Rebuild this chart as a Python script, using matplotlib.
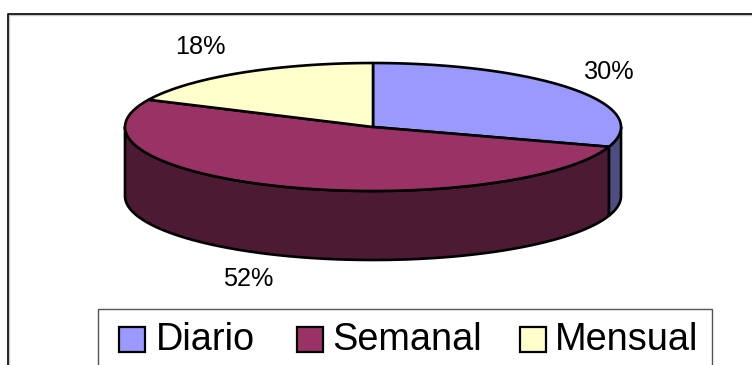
import numpy as np
import matplotlib
matplotlib.use("Agg")
import matplotlib.pyplot as plt
from matplotlib.patches import Polygon, Rectangle

plt.rcParams["font.family"] = ["Liberation Sans", "DejaVu Sans"]

# Data
categories = ["Diario", "Semanal", "Mensual"]
shares = [30, 52, 18]

# Styling
top_colors = ["#9999FF", "#993366", "#FFFFCC"]
side_colors = ["#4D4D80", "#4D1A33", "#808066"]
label_anchors = [(609.5, 79), (248, 286), (200, 54)]
legend_swatch_x = [119, 297, 520]
legend_text_x = [155.5, 332.5, 555]

W, H = 752, 365
CX, CY, RX, RY, DEPTH = 373, 127, 248, 64, 69


def rim(start, stop, drop=0.0):
    """Points along the ellipse, angles clockwise from twelve o'clock."""
    t = np.radians(np.linspace(start, stop, max(int(abs(stop - start) * 2), 2)))
    return np.column_stack([CX + RX * np.sin(t), CY - RY * np.cos(t) + drop])


fig = plt.figure(figsize=(W / 100, H / 100), dpi=100, facecolor="white")
ax = fig.add_axes([0, 0, 1, 1])
ax.set_xlim(0, W)
ax.set_ylim(H, 0)
ax.axis("off")

# Chart frame runs off the right and bottom of the canvas
ax.plot([W + 5, 9.3, 9.3], [15, 15, H + 5], color="#C8C8C8", lw=1.0, zorder=1)
ax.plot([W + 5, 8, 8], [13.5, 13.5, H + 5], color="black", lw=1.2, zorder=1.1)

angles = np.concatenate([[0], np.cumsum(shares) / np.sum(shares) * 360])
edge = dict(edgecolor="black", linewidth=1.9, joinstyle="round")

# Side walls: only the part of each slice on the near half of the rim shows
for i in range(len(shares)):
    a, b = max(angles[i], 90), min(angles[i + 1], 270)
    if a < b:
        upper = rim(a, b)
        lower = rim(b, a, DEPTH)
        ax.add_patch(Polygon(np.vstack([upper, lower]), closed=True,
                             facecolor=side_colors[i], zorder=2, **edge))

# Top faces
for i in range(len(shares)):
    pts = np.vstack([[CX, CY], rim(angles[i], angles[i + 1])])
    ax.add_patch(Polygon(pts, closed=True, facecolor=top_colors[i], zorder=3, **edge))

# Percentage labels
for value, (x, y) in zip(shares, label_anchors):
    ax.text(x, y, f"{value}%", fontsize=18.2, ha="center", va="baseline",
            color="black", zorder=5)

# Legend box, cut by the lower canvas edge
ax.add_patch(Rectangle((98, 308.5), 614, 80, facecolor="white",
                       edgecolor="#555555", linewidth=1.0, zorder=4))
for name, color, sx, tx in zip(categories, top_colors, legend_swatch_x, legend_text_x):
    ax.add_patch(Rectangle((sx, 326.5), 25.5, 25.5, facecolor=color,
                           edgecolor="black", linewidth=1.6, zorder=5))
    ax.text(tx, 350, name, fontsize=27.3, ha="left", va="baseline",
            color="black", zorder=5)

fig.savefig("out.png", dpi=100, facecolor="white")
